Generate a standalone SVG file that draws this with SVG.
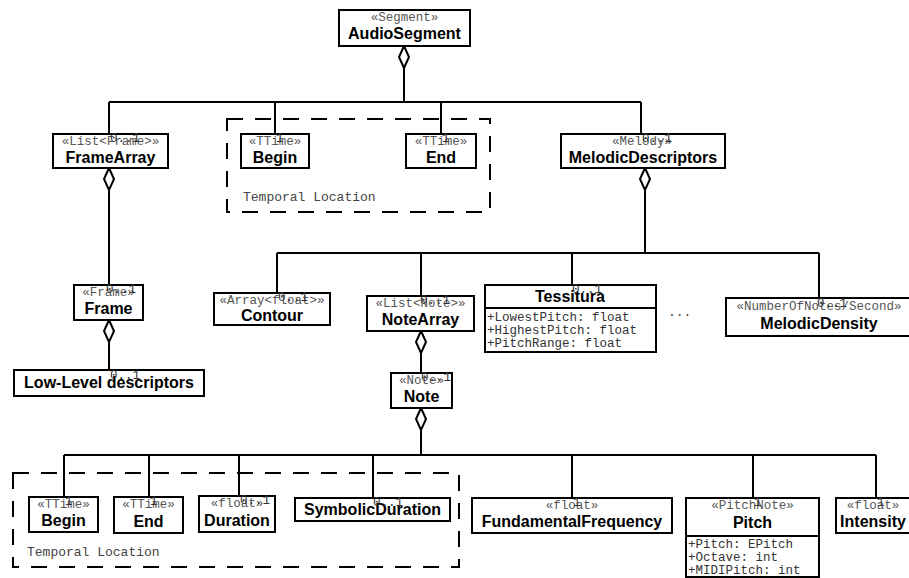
<svg xmlns="http://www.w3.org/2000/svg" width="909" height="578" viewBox="0 0 909 578">
  <defs>
    <!-- open aggregation diamond, tip at origin pointing up -->
    <path id="agg" d="M0,0 L5,11 L0,22 L-5,11 Z" fill="#fff" stroke="#000" stroke-width="2"/>
  </defs>
  <style>
    .box { fill: #fff; stroke: #000; stroke-width: 2; }
    .frame { fill: none; stroke: #000; stroke-width: 2; stroke-dasharray: 16 12; }
    .st { font-family: "Liberation Mono", monospace; font-size: 12.5px; fill: #555; text-anchor: middle; }
    .nm { font-family: "Liberation Sans", Arial, sans-serif; font-size: 16px; font-weight: bold; fill: #000; text-anchor: middle; }
    .at { font-family: "Liberation Mono", monospace; font-size: 12.5px; fill: #333; }
    .mul { font-family: "Liberation Mono", monospace; font-size: 12.5px; fill: #333; }
    .lbl { font-family: "Liberation Mono", monospace; font-size: 13px; fill: #444; }
    .ln { fill: none; stroke: #000; stroke-width: 2; }
  </style>
  <rect width="909" height="578" fill="#fff"/>

  <!-- package frames -->
  <g id="temporal-location-1">
    <rect class="frame" x="227" y="119" width="263" height="93"/>
    <text class="lbl" x="243" y="201">Temporal Location</text>
  </g>
  <g id="temporal-location-2">
    <rect class="frame" x="13" y="473" width="446" height="94"/>
    <text class="lbl" x="27" y="556">Temporal Location</text>
  </g>

  <!-- connectors -->
  <g id="connectors">
    <use href="#agg" x="404" y="46"/>
    <path class="ln" d="M404,68 V102 M109,102 H641 M109,102 V134 M275,102 V134 M441,102 V134 M641,102 V134"/>
    <use href="#agg" x="109" y="168"/>
    <path class="ln" d="M109,190 V285"/>
    <use href="#agg" x="645" y="168"/>
    <path class="ln" d="M645,190 V253 M277,253 H819 M277,253 V293 M421,253 V296 M572,253 V285 M819,253 V298"/>
    <use href="#agg" x="109" y="320"/>
    <path class="ln" d="M109,342 V370"/>
    <use href="#agg" x="421" y="331"/>
    <path class="ln" d="M421,353 V373"/>
    <use href="#agg" x="421" y="408"/>
    <path class="ln" d="M421,430 V455 M64,455 H876 M64,455 V497 M149,455 V497 M239,455 V496 M373,455 V498 M572,455 V498 M753,455 V498 M876,455 V498"/>
  </g>

  <g id="AudioSegment">
    <rect class="box" x="339" y="10" width="131" height="36"/>
    <text class="st" x="404.5" y="21">«Segment»</text>
    <text class="nm" x="404.5" y="39">AudioSegment</text>
  </g>

  <g id="FrameArray">
    <rect class="box" x="53" y="134" width="115" height="34"/>
    <text class="st" x="110.5" y="145">«List&lt;Frame&gt;»</text>
    <text class="nm" x="110.5" y="163">FrameArray</text>
    <text class="mul" x="110" y="142">0..1</text>
  </g>

  <g id="Begin">
    <rect class="box" x="241" y="134" width="68" height="34"/>
    <text class="st" x="275" y="145">«TTime»</text>
    <text class="nm" x="275" y="163">Begin</text>
    <text class="mul" x="276" y="142">1</text>
  </g>

  <g id="End">
    <rect class="box" x="406" y="134" width="70" height="34"/>
    <text class="st" x="441" y="145">«TTime»</text>
    <text class="nm" x="441" y="163">End</text>
    <text class="mul" x="442" y="142">1</text>
  </g>

  <g id="MelodicDescriptors">
    <rect class="box" x="561" y="134" width="164" height="34"/>
    <text class="st" x="642" y="145">«Melody»</text>
    <text class="nm" x="643" y="163">MelodicDescriptors</text>
    <text class="mul" x="642" y="142">0..1</text>
  </g>

  <g id="Frame">
    <rect class="box" x="74" y="285" width="69" height="35"/>
    <text class="st" x="108.5" y="296">«Frame»</text>
    <text class="nm" x="108.5" y="314">Frame</text>
    <text class="mul" x="106" y="293">0..1</text>
  </g>

  <g id="LowLevelDescriptors">
    <rect class="box" x="14" y="370" width="190" height="26"/>
    <text class="nm" x="109" y="388">Low-Level descriptors</text>
    <text class="mul" x="110" y="379">0..1</text>
  </g>

  <g id="Contour">
    <rect class="box" x="214" y="293" width="116" height="32"/>
    <text class="st" x="272" y="304">«Array&lt;float&gt;»</text>
    <text class="nm" x="272" y="321">Contour</text>
    <text class="mul" x="278" y="301">0..1</text>
  </g>

  <g id="NoteArray">
    <rect class="box" x="367" y="296" width="107" height="35"/>
    <text class="st" x="420.5" y="307">«List&lt;Note&gt;»</text>
    <text class="nm" x="420.5" y="325">NoteArray</text>
    <text class="mul" x="420" y="304">0..1</text>
  </g>

  <g id="Tessitura">
    <rect class="box" x="485" y="285" width="171" height="67"/>
    <line x1="485" y1="308" x2="656" y2="308" stroke="#000" stroke-width="2"/>
    <text class="nm" x="570" y="302">Tessitura</text>
    <text class="mul" x="572" y="293">0..1</text>
    <text class="at" x="487" y="321">+LowestPitch: float</text>
    <text class="at" x="487" y="334">+HighestPitch: float</text>
    <text class="at" x="487" y="347">+PitchRange: float</text>
  </g>

  <text class="lbl" x="668" y="316">...</text>

  <g id="MelodicDensity">
    <rect class="box" x="726" y="298" width="186" height="38"/>
    <text class="st" x="819" y="310">«NumberOfNotes/Second»</text>
    <text class="nm" x="819" y="329">MelodicDensity</text>
    <text class="mul" x="817" y="307">0..1</text>
  </g>

  <g id="Note">
    <rect class="box" x="391" y="373" width="61" height="35"/>
    <text class="st" x="421.5" y="384">«Note»</text>
    <text class="nm" x="421.5" y="402">Note</text>
    <text class="mul" x="421" y="381">0..1</text>
  </g>

  <g id="Begin2">
    <rect class="box" x="29" y="497" width="69" height="35"/>
    <text class="st" x="63.5" y="508">«TTime»</text>
    <text class="nm" x="63.5" y="526">Begin</text>
    <text class="mul" x="65" y="505">1</text>
  </g>

  <g id="End2">
    <rect class="box" x="114" y="497" width="69" height="36"/>
    <text class="st" x="148.5" y="508">«TTime»</text>
    <text class="nm" x="148.5" y="527">End</text>
    <text class="mul" x="150" y="505">1</text>
  </g>

  <g id="Duration">
    <rect class="box" x="199" y="496" width="76" height="36"/>
    <text class="st" x="237" y="507">«float»</text>
    <text class="nm" x="237" y="526">Duration</text>
    <text class="mul" x="240" y="504">0..1</text>
  </g>

  <g id="SymbolicDuration">
    <rect class="box" x="295" y="498" width="155" height="23"/>
    <text class="nm" x="372.5" y="515">SymbolicDuration</text>
    <text class="mul" x="373" y="506">0..1</text>
  </g>

  <g id="FundamentalFrequency">
    <rect class="box" x="472" y="498" width="200" height="35"/>
    <text class="st" x="572" y="509">«float»</text>
    <text class="nm" x="572" y="527">FundamentalFrequency</text>
    <text class="mul" x="573" y="506">1</text>
  </g>

  <g id="Pitch">
    <rect class="box" x="686" y="498" width="133" height="79"/>
    <line x1="686" y1="536" x2="819" y2="536" stroke="#000" stroke-width="2"/>
    <text class="st" x="752.5" y="509">«PitchNote»</text>
    <text class="nm" x="752.5" y="528">Pitch</text>
    <text class="mul" x="754" y="506">1</text>
    <text class="at" x="688" y="548">+Pitch: EPitch</text>
    <text class="at" x="688" y="561">+Octave: int</text>
    <text class="at" x="688" y="574">+MIDIPitch: int</text>
  </g>

  <g id="Intensity">
    <rect class="box" x="836" y="498" width="76" height="35"/>
    <text class="st" x="873" y="509">«float»</text>
    <text class="nm" x="873" y="527">Intensity</text>
    <text class="mul" x="877" y="506">1</text>
  </g>
</svg>
